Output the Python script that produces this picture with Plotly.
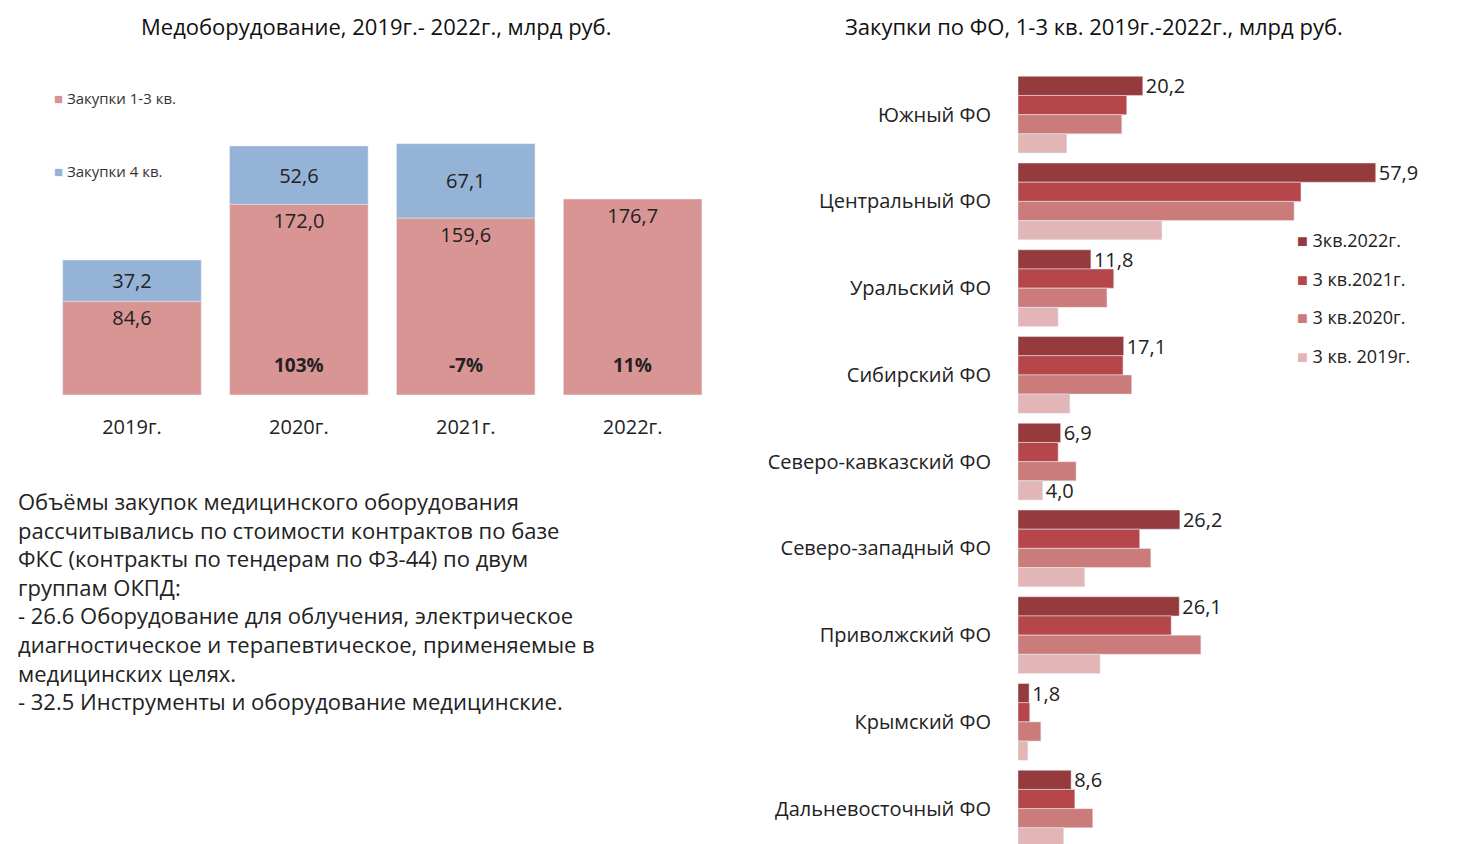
import plotly.graph_objects as go

W, H = 1463, 844
FONT = "Open Sans"

years = ["2019г.", "2020г.", "2021г.", "2022г."]
q13 = [84.6, 172.0, 159.6, 176.7]
q4 = [37.2, 52.6, 67.1, None]
growth = ["", "103%", "-7%", "11%"]

regions = ["Южный ФО", "Центральный ФО", "Уральский ФО", "Сибирский ФО", "Северо-кавказский ФО",
           "Северо-западный ФО", "Приволжский ФО", "Крымский ФО", "Дальневосточный ФО"]
v2022 = [20.2, 57.9, 11.8, 17.1, 6.9, 26.2, 26.1, 1.8, 8.6]
v2021 = [17.6, 45.8, 15.5, 17.0, 6.5, 19.7, 24.8, 1.9, 9.2]
v2020 = [16.8, 44.7, 14.4, 18.4, 9.4, 21.5, 29.6, 3.7, 12.1]
v2019 = [7.9, 23.3, 6.5, 8.4, 4.0, 10.8, 13.3, 1.6, 7.4]
series_names = ["3кв.2022г.", "3 кв.2021г.", "3 кв.2020г.", "3 кв. 2019г."]
series_colors = ["#953a3d", "#b5474b", "#cc7b7b", "#e2b6b6"]

def fmt(v):
    return f"{v:.1f}".replace(".", ",")

fig = go.Figure()
fig.add_bar(x=years, y=q13, marker_color="#d99594", width=0.83, offsetgroup="L",
            text=[fmt(v) for v in q13], textposition="inside", insidetextanchor="end",
            textfont=dict(size=20, color="#222"), xaxis="x", yaxis="y", showlegend=False)
fig.add_bar(x=years, y=q4, base=q13, marker_color="#95b3d7", width=0.83, offsetgroup="L",
            text=[fmt(v) if v else "" for v in q4], textposition="inside", insidetextanchor="middle",
            textfont=dict(size=20, color="#222"), xaxis="x", yaxis="y", showlegend=False)
for yr, g in zip(years, growth):
    if g:
        fig.add_annotation(x=yr, y=27, xref="x", yref="y", text=f"<b>{g}</b>", showarrow=False,
                           font=dict(size=19, color="#222"))

vals = [v2022, v2021, v2020, v2019]
for i, (name, col, v) in enumerate(zip(series_names, series_colors, vals)):
    if i == 0:
        txt = [fmt(x) for x in v]
    elif i == 3:
        txt = [fmt(x) if r == "Северо-кавказский ФО" else "" for x, r in zip(v, regions)]
    else:
        txt = None
    fig.add_bar(y=regions, x=v, orientation="h", marker_color=col, name=name, offsetgroup=str(i),
                text=txt, textposition="outside", cliponaxis=False, constraintext="none",
                textfont=dict(size=20, color="#222"), xaxis="x2", yaxis="y2", showlegend=False)

fig.update_layout(
    width=W, height=H, margin=dict(l=0, r=0, t=0, b=0, autoexpand=False),
    paper_bgcolor="white", plot_bgcolor="white",
    font=dict(family=FONT, size=20, color="#222"),
    barmode="group", bargap=0.115, bargroupgap=0,
    xaxis=dict(domain=[0.0277, 0.484], showgrid=False, showline=False, ticks="outside",
               ticklen=14, tickcolor="white", tickfont=dict(size=20), automargin=False),
    yaxis=dict(domain=[0.5415, 0.929], range=[0, 295], visible=False),
    xaxis2=dict(domain=[1010 / W, 1440 / W], range=[0, 69.6], visible=False),
    yaxis2=dict(domain=[0, 0.925], anchor="x2", autorange="reversed", showgrid=False,
                showline=False, ticks="outside", ticklen=22, tickcolor="white",
                tickfont=dict(size=20), automargin=False),
)

def px(x, y):
    return x / W, 1 - y / H

def ann(x, y, text, size, xanchor="center", **kw):
    fig.add_annotation(x=px(x, 0)[0], y=px(0, y)[1], xref="paper", yref="paper", showarrow=False,
                       xanchor=xanchor, yanchor=kw.pop("yanchor", "middle"), text=text,
                       font=dict(size=size, color=kw.pop("color", "#222")), **kw)

ann(368, 18, "Медоборудование, 2019г.- 2022г., млрд руб.", 22, color="#111")
ann(1086, 18, "Закупки по ФО, 1-3 кв. 2019г.-2022г., млрд руб.", 22, color="#111")

for txt, col, y in [("Закупки 1-3 кв.", "#d99594", 90), ("Закупки 4 кв.", "#95b3d7", 163)]:
    ann(44, y, f"<span style='color:{col}'>■</span> {txt}", 15, xanchor="left", color="#333")
for i, (name, col) in enumerate(zip(series_names, series_colors)):
    ann(1287, 232 + i * 38.7, f"<span style='color:{col}'>■</span> {name}", 18, xanchor="left")

body = ("Объёмы закупок медицинского оборудования<br>рассчитывались по стоимости контрактов по базе<br>"
        "ФКС (контракты по тендерам по ФЗ-44) по двум<br>группам ОКПД:<br>"
        "- 26.6 Оборудование для облучения, электрическое<br>диагностическое и терапевтическое, применяемые в<br>"
        "медицинских целях.<br>- 32.5 Инструменты и оборудование медицинские.")
ann(8, 476, body, 22, xanchor="left", yanchor="top", align="left")

fig.write_html("out.html")
